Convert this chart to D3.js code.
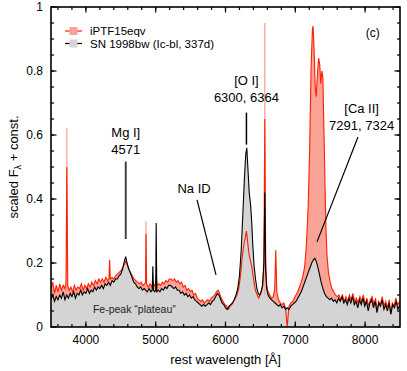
<!DOCTYPE html>
<html>
<head>
<meta charset="utf-8">
<script src="https://cdn.jsdelivr.net/npm/d3@7"></script>
<style>
  html,body{margin:0;padding:0;background:#fff;}
  svg{display:block;font-family:"Liberation Sans",Arial,Helvetica,sans-serif;}
</style>
</head>
<body>
<svg id="chart" width="407" height="371"></svg>
<script>
/* spectra, [rest wavelength (A), scaled flux] */
var sn98bw=[
[3500,.085],[3525,.10],[3550,.08],[3575,.095],[3600,.085],[3625,.10],[3650,.09],[3675,.11],[3700,.085],[3725,.10],
[3750,.09],[3775,.105],[3800,.095],[3825,.11],[3850,.09],[3875,.105],[3900,.10],[3925,.115],[3950,.10],[3975,.11],
[4000,.105],[4025,.12],[4050,.105],[4075,.115],[4100,.11],[4125,.125],[4150,.115],[4175,.125],[4200,.12],[4225,.13],
[4250,.12],[4275,.135],[4300,.13],[4325,.14],[4350,.13],[4375,.145],[4400,.14],[4425,.15],[4450,.15],[4475,.16],
[4500,.165],[4525,.18],[4550,.205],[4570,.22],[4590,.20],[4610,.185],[4635,.17],[4660,.155],[4685,.14],[4710,.135],
[4735,.125],[4760,.12],[4785,.125],[4810,.115],[4835,.12],[4855,.115],[4880,.11],[4905,.12],[4930,.11],[4950,.115],
[4959,.19],[4968,.115],[4985,.11],[5000,.115],[5007,.325],[5016,.11],[5035,.115],[5060,.11],[5085,.12],[5110,.115],
[5135,.125],[5160,.12],[5185,.13],[5210,.13],[5235,.125],[5260,.12],[5285,.125],[5310,.115],[5335,.115],[5360,.105],
[5385,.11],[5410,.10],[5435,.105],[5460,.095],[5485,.10],[5510,.09],[5535,.095],[5560,.085],[5585,.08],[5610,.075],
[5635,.07],[5660,.065],[5685,.07],[5710,.065],[5735,.07],[5760,.075],[5785,.07],[5810,.08],[5835,.085],[5860,.095],
[5885,.105],[5905,.10],[5925,.09],[5950,.075],[5975,.07],[6000,.06],[6025,.055],[6050,.065],[6075,.07],[6100,.075],
[6125,.085],[6150,.10],[6175,.12],[6200,.16],[6225,.24],[6250,.36],[6270,.46],[6290,.54],[6305,.56],[6320,.50],
[6340,.42],[6360,.38],[6375,.33],[6390,.26],[6410,.19],[6430,.15],[6450,.12],[6470,.105],[6490,.10],[6510,.11],
[6530,.13],[6550,.20],[6563,.42],[6575,.18],[6590,.12],[6610,.10],[6635,.09],[6660,.085],[6685,.08],[6710,.075],
[6735,.07],[6760,.065],[6785,.07],[6810,.06],[6835,.065],[6860,.055],[6885,.06],[6910,.055],[6935,.065],[6960,.07],
[6985,.075],[7010,.08],[7035,.09],[7060,.10],[7085,.11],[7110,.125],[7135,.14],[7160,.155],[7185,.17],[7210,.185],
[7235,.20],[7260,.21],[7280,.215],[7300,.205],[7320,.19],[7345,.165],[7370,.14],[7395,.12],[7420,.105],[7445,.095],
[7470,.09],[7495,.085],[7520,.09],[7545,.08],[7570,.085],[7595,.075],[7620,.09],[7645,.08],[7670,.095],[7695,.075],
[7720,.085],[7745,.07],[7770,.09],[7795,.075],[7820,.095],[7845,.07],[7870,.08],[7895,.06],[7920,.085],[7945,.07],
[7970,.09],[7995,.065],[8020,.08],[8045,.05],[8070,.075],[8095,.085],[8120,.06],[8145,.08],[8170,.045],[8195,.075],
[8220,.065],[8245,.085],[8270,.055],[8295,.07],[8320,.05],[8345,.075],[8370,.04],[8395,.07],[8420,.06],[8445,.08],
[8470,.055],[8500,.07]];

var iptf15eqv=[
[3500,.12],[3525,.14],[3550,.105],[3575,.13],[3600,.11],[3625,.135],[3650,.115],[3675,.13],[3700,.12],[3715,.14],
[3727,.50],[3740,.13],[3760,.115],[3785,.125],[3810,.11],[3835,.13],[3860,.115],[3885,.125],[3910,.12],[3935,.135],
[3960,.115],[3985,.13],[4010,.12],[4035,.135],[4060,.125],[4085,.14],[4110,.13],[4135,.145],[4160,.135],[4185,.15],
[4210,.14],[4235,.15],[4260,.14],[4285,.155],[4310,.145],[4330,.15],[4340,.21],[4350,.15],[4375,.155],[4400,.15],
[4425,.16],[4450,.165],[4475,.17],[4500,.175],[4525,.185],[4550,.195],[4570,.205],[4590,.195],[4615,.18],[4640,.17],
[4665,.16],[4690,.15],[4715,.145],[4740,.14],[4765,.135],[4790,.14],[4815,.13],[4840,.135],[4855,.14],[4861,.29],
[4870,.135],[4895,.125],[4920,.135],[4945,.125],[4960,.14],[4985,.13],[5000,.135],[5007,.16],[5020,.13],[5045,.135],
[5070,.13],[5095,.14],[5120,.135],[5145,.145],[5170,.14],[5195,.15],[5220,.15],[5245,.145],[5270,.15],[5295,.14],
[5320,.145],[5345,.135],[5370,.14],[5395,.125],[5420,.13],[5445,.115],[5470,.12],[5495,.11],[5520,.115],[5545,.10],
[5570,.105],[5595,.09],[5620,.085],[5645,.08],[5670,.085],[5695,.075],[5720,.08],[5745,.085],[5770,.08],[5795,.09],
[5820,.095],[5845,.10],[5870,.11],[5895,.115],[5915,.105],[5940,.09],[5965,.08],[5990,.07],[6015,.065],[6040,.055],
[6065,.065],[6090,.07],[6115,.08],[6140,.09],[6165,.10],[6190,.12],[6215,.16],[6240,.22],[6265,.26],[6285,.28],
[6300,.30],[6315,.27],[6335,.23],[6355,.21],[6375,.19],[6395,.16],[6415,.13],[6435,.11],[6455,.10],[6475,.09],
[6495,.10],[6515,.11],[6535,.13],[6550,.20],[6563,.65],[6576,.20],[6590,.13],[6610,.11],[6635,.10],[6660,.09],
[6685,.095],[6705,.12],[6720,.24],[6735,.11],[6760,.085],[6785,.075],[6810,.07],[6835,.075],[6860,.06],[6875,.02],
[6885,0],[6895,.03],[6910,.065],[6935,.075],[6960,.08],[6985,.09],[7010,.10],[7035,.11],[7060,.125],[7085,.14],
[7110,.16],[7135,.19],[7160,.26],[7185,.38],[7205,.55],[7225,.80],[7245,.93],[7255,.94],[7270,.86],[7285,.75],
[7300,.72],[7320,.80],[7335,.84],[7350,.82],[7365,.76],[7380,.80],[7395,.78],[7410,.62],[7425,.45],[7440,.30],
[7455,.22],[7475,.17],[7500,.14],[7525,.12],[7550,.11],[7575,.10],[7600,.095],[7625,.10],[7650,.085],[7675,.10],
[7700,.08],[7725,.095],[7750,.08],[7775,.10],[7800,.085],[7825,.105],[7850,.08],[7875,.09],[7900,.075],[7925,.095],
[7950,.08],[7975,.10],[8000,.07],[8025,.09],[8050,.065],[8075,.085],[8100,.095],[8125,.07],[8150,.09],[8175,.05],
[8195,.08],[8220,.07],[8245,.095],[8270,.065],[8295,.08],[8320,.06],[8345,.085],[8365,.04],[8390,.075],[8415,.065],
[8440,.09],[8465,.07],[8500,.08]];

/* unbinned narrow emission peaks of iPTF15eqv */
var narrowLines=[[3727,.62],[4861,.33],[6563,.95]];

var xTicks=[4000,5000,6000,7000,8000];
var yTicks=[0,0.2,0.4,0.6,0.8,1];
var legendNames=['iPTF15eqv','SN 1998bw (Ic-bl, 337d)'];

/* line identifications: label lines, pointer from -> to (data units) */
var annots=[
  {lines:['Mg I]','4571'], tx:4571, ty:0.595, from:[4571,0.517], to:[4571,0.275], col:'#444', w:2},
  {lines:['Na ID'], tx:5550, ty:0.42, from:[5592,0.397], to:[5864,0.163], col:'#000', w:1.2},
  {lines:['[O I]','6300, 6364'], tx:6300, ty:0.755, from:[6300,0.67], to:[6300,0.57], col:'#000', w:1.5},
  {lines:['[Ca II]','7291, 7324'], tx:7950, ty:0.67, from:[7898,0.594], to:[7311,0.266], col:'#000', w:1.2}
];

var RED='#ff1e00', SALMON='#f9a396', GREY='#d4d4d4';
var ML=51, MT=7, PW=349, PH=320;

var svg=d3.select('#chart');
var g=svg.append('g').attr('transform','translate('+ML+','+MT+')');
var x=d3.scaleLinear().domain([3500,8500]).range([0,PW]);
var y=d3.scaleLinear().domain([0,1]).range([PH,0]);

var defs=svg.append('defs');
defs.append('clipPath').attr('id','clip').append('rect').attr('width',PW).attr('height',PH);
var plot=g.append('g').attr('clip-path','url(#clip)');

var area=d3.area().x(function(d){return x(d[0])}).y0(y(0)).y1(function(d){return y(d[1])});
var line=d3.line().x(function(d){return x(d[0])}).y(function(d){return y(d[1])});

plot.append('path').datum(iptf15eqv).attr('d',area).attr('fill',SALMON);
plot.append('path').datum(sn98bw).attr('d',area).attr('fill',GREY);
narrowLines.forEach(function(n){
  plot.append('line').attr('x1',x(n[0])).attr('x2',x(n[0])).attr('y1',y(0.1)).attr('y2',y(n[1]))
    .attr('stroke',SALMON).attr('stroke-width',1.3);
});
plot.append('path').datum(iptf15eqv).attr('d',line).attr('fill','none').attr('stroke',RED).attr('stroke-width',1.1);
plot.append('path').datum(sn98bw).attr('d',line).attr('fill','none').attr('stroke','#000').attr('stroke-width',1.1);

/* ticks, inward on all four sides */
var xMinor=d3.range(3600,8500,200), yMinor=d3.range(0.05,1,0.05);
function tickSet(vals,len){
  vals.forEach(function(v){
    g.append('line').attr('x1',x(v)).attr('x2',x(v)).attr('y1',PH).attr('y2',PH-len).attr('stroke','#000').attr('stroke-width',1.2);
    g.append('line').attr('x1',x(v)).attr('x2',x(v)).attr('y1',0).attr('y2',len).attr('stroke','#000').attr('stroke-width',1.2);
  });
}
tickSet(xMinor,3);
tickSet(xTicks,5.5);
function yTickSet(vals,len){
  vals.forEach(function(v){
    g.append('line').attr('x1',0).attr('x2',len).attr('y1',y(v)).attr('y2',y(v)).attr('stroke','#000').attr('stroke-width',1.2);
    g.append('line').attr('x1',PW).attr('x2',PW-len).attr('y1',y(v)).attr('y2',y(v)).attr('stroke','#000').attr('stroke-width',1.2);
  });
}
yTickSet(yMinor,3);
yTickSet(yTicks,5.5);

g.append('rect').attr('width',PW).attr('height',PH).attr('fill','none').attr('stroke','#000').attr('stroke-width',1.6);

xTicks.forEach(function(v){
  g.append('text').attr('x',x(v)).attr('y',PH+17).attr('text-anchor','middle').attr('font-size','12px').text(v);
});
yTicks.forEach(function(v){
  g.append('text').attr('x',-8).attr('y',y(v)+4).attr('text-anchor','end').attr('font-size','12px').text(v===0||v===1?v:v.toFixed(1));
});

svg.append('text').attr('x',ML+PW/2).attr('y',364).attr('text-anchor','middle').attr('font-size','13px').text('rest wavelength [Å]');
var yl=svg.append('text').attr('transform','translate(18,'+(MT+PH/2)+') rotate(-90)').attr('text-anchor','middle').attr('font-size','13px');
yl.append('tspan').text('scaled F');
yl.append('tspan').attr('font-size','9px').attr('dy',3).text('λ');
yl.append('tspan').attr('dy',-3).text(' + const.');

/* annotations */
annots.forEach(function(a){
  a.lines.forEach(function(s,i){
    g.append('text').attr('x',x(a.tx)).attr('y',y(a.ty)+i*17).attr('text-anchor','middle').attr('font-size','13px').text(s);
  });
  g.append('line').attr('x1',x(a.from[0])).attr('y1',y(a.from[1])).attr('x2',x(a.to[0])).attr('y2',y(a.to[1]))
    .attr('stroke',a.col).attr('stroke-width',a.w);
});
g.append('text').attr('x',x(8110)).attr('y',y(0.906)).attr('text-anchor','middle').attr('font-size','12px').text('(c)');
g.append('text').attr('x',x(4100)).attr('y',y(0.045)).attr('font-size','10.5px').attr('fill','#222').text('Fe-peak \u201cplateau\u201d');

/* legend */
var lg=g.append('g').attr('transform','translate(14,24)');
[[RED,SALMON],['#000',GREY]].forEach(function(c,i){
  var yy=i*12.5;
  lg.append('line').attr('x1',0).attr('x2',17).attr('y1',yy).attr('y2',yy).attr('stroke',c[0]).attr('stroke-width',1.2);
  lg.append('rect').attr('x',4.5).attr('y',yy-4).attr('width',8).attr('height',8).attr('fill',c[1]);
  lg.append('text').attr('x',25).attr('y',yy+4.2).attr('font-size','11.5px').text(legendNames[i]);
});
</script>
</body>
</html>
